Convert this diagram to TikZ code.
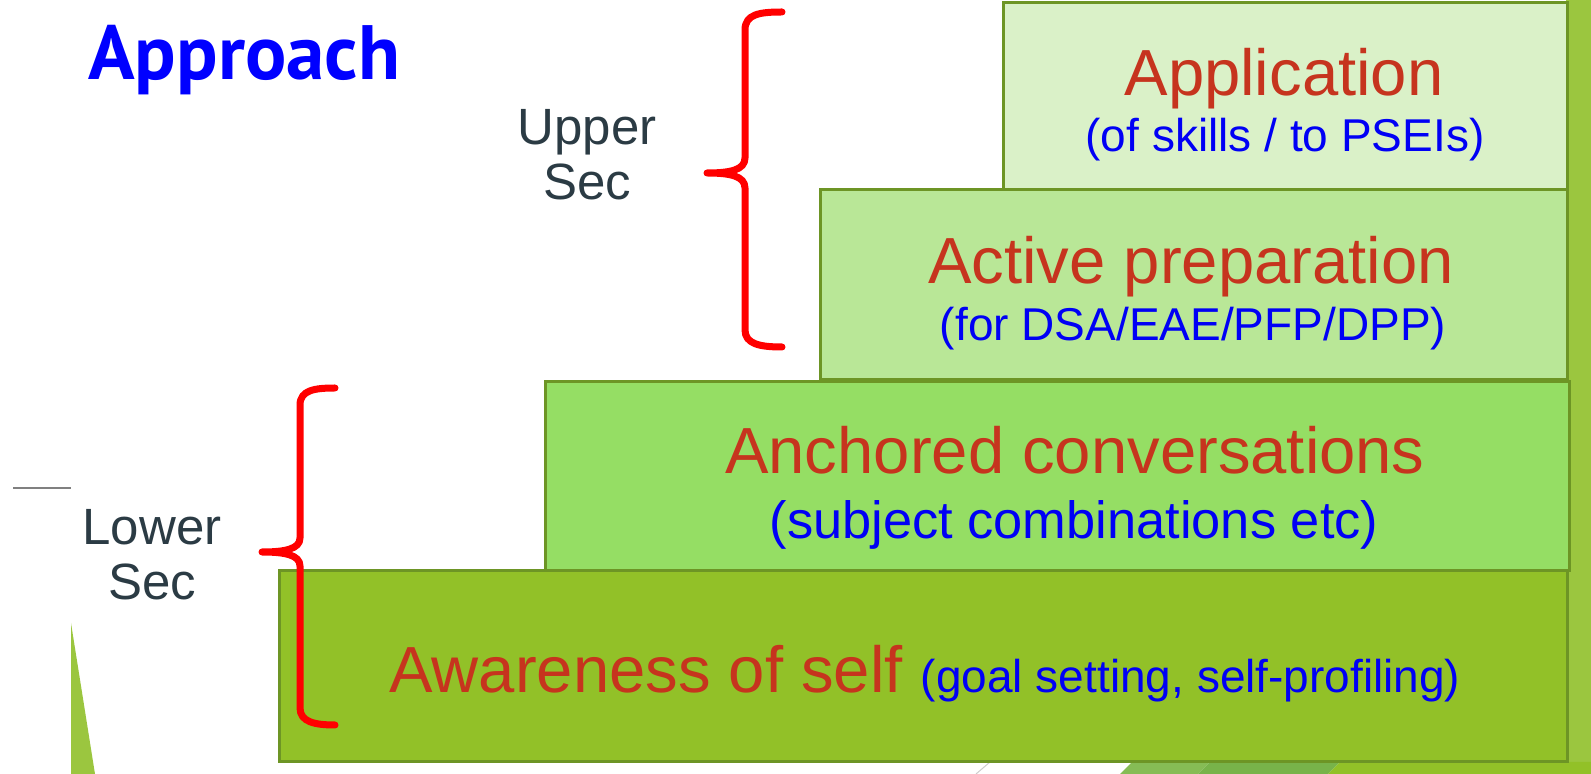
\documentclass[tikz,border=0pt]{standalone}
\usepackage{fontspec}
\setmainfont{Liberation Sans}
\newfontfamily\headfont{PT Sans}
\definecolor{boxline}{HTML}{6D9525}
\definecolor{fillapp}{HTML}{DAF1C8}
\definecolor{fillact}{HTML}{B9E797}
\definecolor{fillanc}{HTML}{95DE64}
\definecolor{fillawa}{HTML}{92C128}
\definecolor{titlered}{HTML}{C6341E}
\definecolor{noteblue}{HTML}{0000F5}
\definecolor{levelgray}{HTML}{2B3B44}
\definecolor{bracered}{HTML}{FF0000}
\definecolor{bggreen}{HTML}{9BC63F}
\definecolor{bgdark}{HTML}{78B34A}
\definecolor{bgmid}{HTML}{86BC55}
\begin{document}
\begin{tikzpicture}[x=0.5pt,y=-0.5pt,
  box/.style={draw=boxline, line width=1.5pt},
  title/.style={inner sep=0pt, anchor=base, text=titlered, font=\fontsize{32.6}{38}\selectfont},
  note/.style={inner sep=0pt, anchor=base, text=noteblue, font=\fontsize{23}{28}\selectfont},
  level/.style={inner sep=0pt, anchor=base, align=center, text=levelgray, font=\fontsize{25.5}{27.5}\selectfont},
  brace/.style={draw=bracered, line width=3.5pt, line cap=round, line join=round}]
\useasboundingbox (0,0) rectangle (1591,774);

% background pieces of the slide
\fill[bggreen] (1566,0) rectangle (1591,774);
\fill[bgmid] (1120,774) -- (1132,762) -- (1210,762) -- (1198,774) -- cycle;
\fill[bgdark] (1198,774) -- (1210,762) -- (1340,762) -- (1328,774) -- cycle;
\fill[fillawa] (1328,774) -- (1340,762) -- (1591,762) -- (1591,774) -- cycle;
\fill[bggreen] (71,623) -- (71,774) -- (95,774) -- cycle;
\draw[gray, line width=0.8pt] (13,488) -- (71,488);
\draw[black!20, line width=0.5pt] (976,774) -- (990,762);

% the steps
\draw[box, fill=fillapp] (1003,3) rectangle (1567,190);
\draw[box, fill=fillact] (820,190) rectangle (1567,380);
\draw[box, fill=fillanc] (545,382) rectangle (1569,571);
\draw[box, fill=fillawa] (279,571) rectangle (1567,762);

\node[title] (apptitle) at (1284,96) {Application};
\node[note] (appnote) at (1285,152) {(of skills / to PSEIs)};
\node[title] (acttitle) at (1191,284) {Active preparation};
\node[note] (actnote) at (1193,341) {(for DSA/EAE/PFP/DPP)};
\node[title] (anctitle) at (1075,474) {Anchored conversations};
\node[note, font=\fontsize{26.2}{30}\selectfont] (ancnote) at (1074,539) {(subject combinations etc)};
\node[title, anchor=base west] (awatitle) at (389,693) {Awareness of self {\color{noteblue}\fontsize{23}{28}\selectfont(goal setting, self-profiling)}};

% heading and levels
\node[inner sep=0pt, anchor=base west, text=blue, font=\headfont\bfseries\fontsize{38.5}{42}\selectfont] (approach) at (88,80) {Approach};
\node[level] (upper) at (587,200) {Upper\\Sec};
\node[level] (lower) at (152,600) {Lower\\Sec};

% braces
\draw[brace] (782,12) .. controls (760,12) and (745,14) .. (745,30) -- (745,158)
  .. controls (745,170) and (730,173) .. (707,173) .. controls (730,173) and (745,176) .. (745,188)
  -- (745,330) .. controls (745,344) and (760,347) .. (782,347);
\draw[brace] (335,388) .. controls (315,388) and (300,390) .. (300,405) -- (300,538)
  .. controls (300,549) and (285,552) .. (262,552) .. controls (285,552) and (300,555) .. (300,566)
  -- (300,708) .. controls (300,722) and (315,725) .. (335,725);
\end{tikzpicture}
\end{document}
